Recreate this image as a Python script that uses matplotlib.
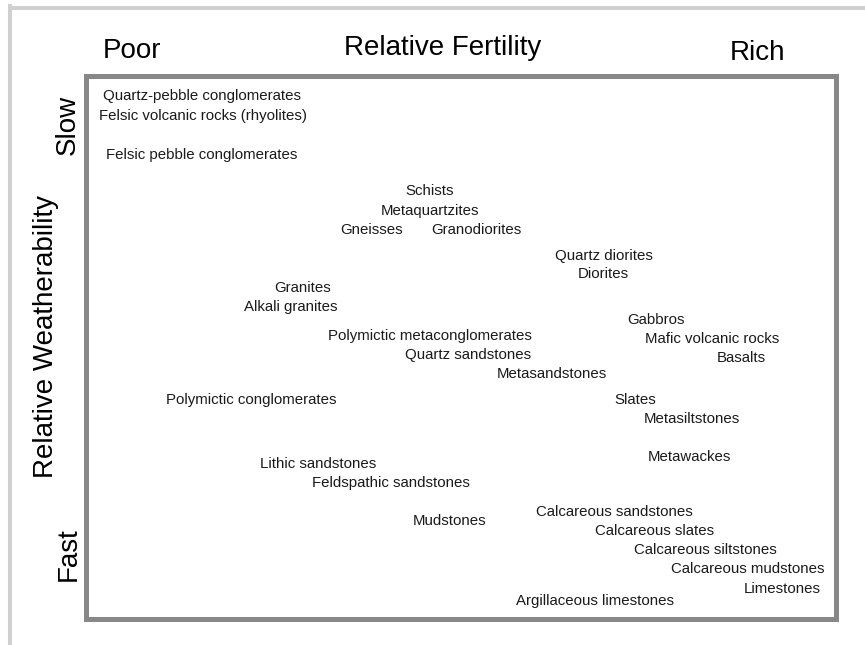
import matplotlib
matplotlib.use("Agg")
import matplotlib.pyplot as plt
from matplotlib.lines import Line2D

# rock types placed by relative fertility (x, 0-100) and weatherability (y, 0-100)
rocks = [
    "Quartz-pebble conglomerates", "Felsic volcanic rocks (rhyolites)",
    "Felsic pebble conglomerates", "Schists", "Metaquartzites", "Gneisses",
    "Granodiorites", "Quartz diorites", "Diorites", "Granites", "Alkali granites",
    "Gabbros", "Polymictic metaconglomerates", "Mafic volcanic rocks",
    "Quartz sandstones", "Basalts", "Metasandstones", "Polymictic conglomerates",
    "Slates", "Metasiltstones", "Metawackes", "Lithic sandstones",
    "Feldspathic sandstones", "Calcareous sandstones", "Mudstones",
    "Calcareous slates", "Calcareous siltstones", "Calcareous mudstones",
    "Limestones", "Argillaceous limestones",
]
fertility = [
    15.5, 15.7, 15.5, 45.9, 45.9, 38.2, 52.1, 69.1, 69.1, 29.0, 27.4,
    76.1, 45.9, 83.5, 51.0, 87.5, 62.2, 22.1, 73.3, 80.9, 80.5, 31.0,
    40.7, 70.5, 48.5, 75.9, 82.7, 88.3, 92.9, 67.9,
]
weatherability = [
    96.2, 92.5, 85.4, 78.7, 75.0, 71.5, 71.5, 66.8, 63.4, 60.9, 57.4,
    55.0, 52.0, 51.5, 48.5, 48.0, 45.0, 40.2, 40.2, 36.7, 29.7, 28.5,
    25.0, 19.6, 18.0, 16.1, 12.6, 9.1, 5.4, 3.2,
]

W, H = 865, 645
plt.rcParams["font.family"] = ["Liberation Sans", "DejaVu Sans"]

fig = plt.figure(figsize=(W / 100, H / 100), dpi=100)
ax = fig.add_axes([85.5 / W, 1 - 618.5 / H, 750 / W, 543 / H])
ax.set_xlim(0, 100)
ax.set_ylim(0, 100)
ax.set_xticks([])
ax.set_yticks([])
for sp in ax.spines.values():
    sp.set_color("#888888")
    sp.set_linewidth(3.6)

for name, x, y in zip(rocks, fertility, weatherability):
    ax.text(x, y, name, ha="center", va="center", fontsize=10.8, color="#1a1a1a")

# light grey frame on top and left
fig.add_artist(Line2D([10 / W, 1], [1 - 7.5 / H, 1 - 7.5 / H],
                      transform=fig.transFigure, color="#d0d0d0", lw=2.9))
fig.add_artist(Line2D([9.5 / W, 9.5 / W], [0, 1 - 6 / H],
                      transform=fig.transFigure, color="#d0d0d0", lw=2.9))

# axis captions
big = dict(fontsize=20, color="black")
fig.text(132 / W, 1 - 58.5 / H, "Poor", ha="center", va="baseline", **big)
fig.text(443 / W, 1 - 55 / H, "Relative Fertility", ha="center", va="baseline", **big)
fig.text(757 / W, 1 - 59.5 / H, "Rich", ha="center", va="baseline", **big)
fig.text(75 / W, 1 - 125 / H, "Slow", ha="center", va="baseline",
         rotation=90, rotation_mode="anchor", **big)
fig.text(53 / W, 1 - 337 / H, "Relative Weatherability", ha="center", va="baseline",
         rotation=90, rotation_mode="anchor", **big)
fig.text(76 / W, 1 - 554 / H, "Fast", ha="center", va="baseline",
         rotation=90, rotation_mode="anchor", **big)

fig.savefig("out.png", dpi=100)
